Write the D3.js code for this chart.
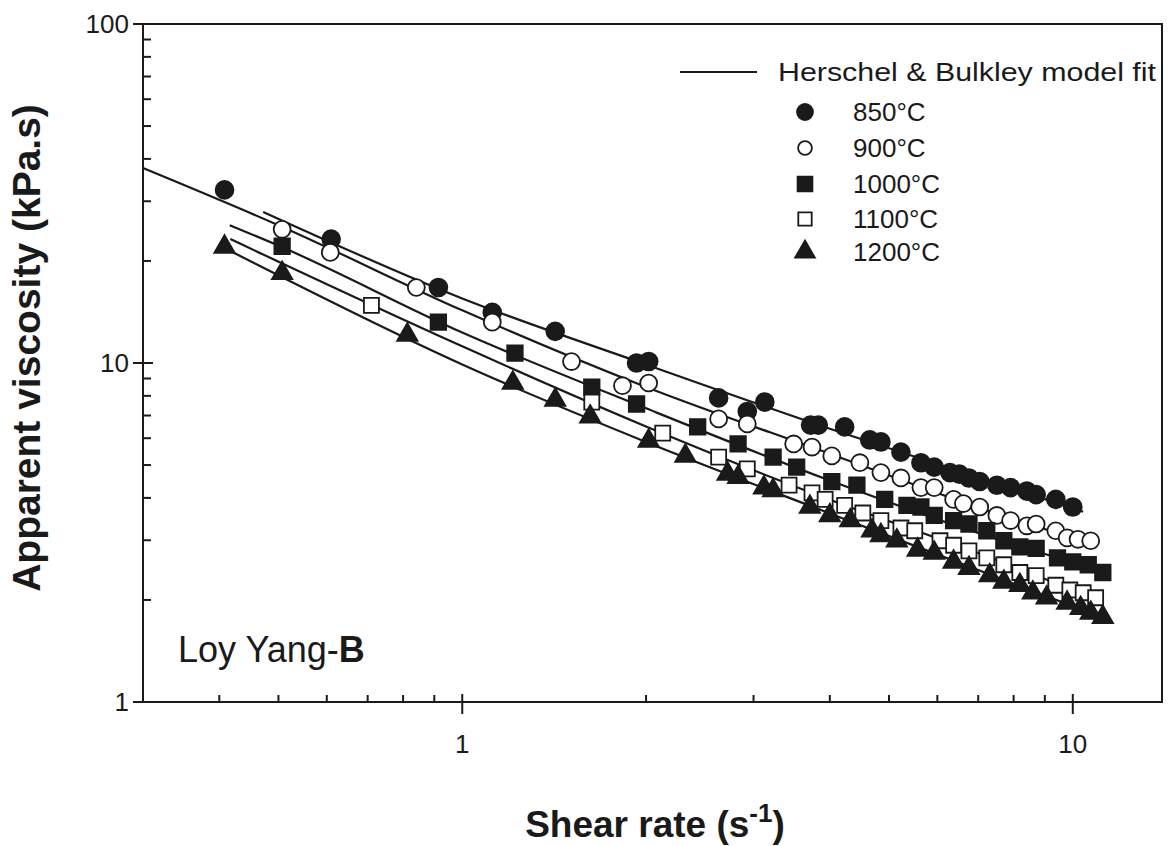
<!DOCTYPE html>
<html>
<head>
<meta charset="utf-8">
<script src="https://cdn.jsdelivr.net/npm/d3@7/dist/d3.min.js"></script>
<style>
  body { margin: 0; background: #fff; }
  text { font-family: "Liberation Sans", Arial, sans-serif; fill: #1a1a1a; }
</style>
</head>
<body>
<svg id="chart" width="1168" height="846"></svg>
<script>
// shear rate (1/s), apparent viscosity (kPa.s)
let t850 = [[0.408,32.4],[0.61,23.2],[0.914,16.7],[1.12,14.1],[1.42,12.4],[1.93,10.0],[2.02,10.1],[2.63,7.89],[2.93,7.19],[3.13,7.67],
  [3.72,6.56],[3.83,6.56],[4.23,6.48],[4.65,5.93],[4.85,5.85],[5.23,5.46],[5.64,5.08],[5.93,4.93],[6.29,4.75],[6.52,4.70],
  [6.76,4.58],[7.04,4.47],[7.51,4.36],[7.91,4.29],[8.41,4.19],[8.71,4.09],[9.38,3.96],[10.0,3.76]];
let t900 = [[0.507,24.8],[0.608,21.2],[0.841,16.7],[1.12,13.2],[1.51,10.1],[1.83,8.57],[2.02,8.73],[2.63,6.84],[2.93,6.61],[3.49,5.77],
  [3.74,5.65],[4.03,5.32],[4.48,5.08],[4.85,4.75],[5.23,4.58],[5.64,4.29],[5.93,4.29],[6.38,3.96],[6.62,3.85],[7.04,3.76],
  [7.51,3.55],[7.91,3.43],[8.41,3.31],[8.71,3.35],[9.38,3.20],[9.79,3.05],[10.2,3.02],[10.7,2.99]];
let t1000 = [[0.507,22.1],[0.914,13.2],[1.22,10.7],[1.63,8.49],[1.93,7.57],[2.43,6.48],[2.83,5.77],[3.23,5.28],[3.53,4.93],[4.03,4.47],
  [4.43,4.36],[4.92,3.96],[5.35,3.80],[5.64,3.76],[5.93,3.55],[6.38,3.43],[6.76,3.35],[7.23,3.20],[7.71,2.99],[8.19,2.87],
  [8.71,2.84],[9.44,2.66],[10.0,2.59],[10.6,2.54],[11.2,2.41]];
let t1100 = [[0.71,14.8],[1.63,7.67],[2.13,6.21],[2.63,5.28],[2.93,4.87],[3.43,4.36],[3.74,4.14],[3.93,3.96],[4.23,3.80],[4.53,3.61],
  [4.85,3.43],[5.23,3.26],[5.51,3.20],[6.06,2.99],[6.38,2.90],[6.76,2.79],[7.23,2.66],[7.71,2.54],[8.19,2.41],[8.71,2.36],
  [9.38,2.21],[9.89,2.14],[10.4,2.10],[10.9,2.03]];
let t1200 = [[0.408,22.0],[0.507,18.4],[0.813,12.1],[1.21,8.73],[1.42,7.78],[1.62,6.94],[2.02,5.89],[2.32,5.32],[2.72,4.71],[2.83,4.60],
  [3.12,4.29],[3.23,4.21],[3.71,3.76],[4.00,3.55],[4.32,3.43],[4.69,3.20],[4.85,3.10],[5.15,2.99],[5.57,2.81],[5.93,2.75],
  [6.38,2.59],[6.76,2.48],[7.31,2.36],[7.71,2.26],[8.19,2.21],[8.60,2.10],[9.06,2.03],[9.79,1.96],[10.3,1.89],[10.7,1.83],
  [11.2,1.78]];

// Herschel & Bulkley fit curves
let fit850 = [[0.472,27.9],[1,15.5],[2,9.9],[4,6.4],[7,4.6],[10.4,3.64]];
let fit900 = [[0.3,37.6],[0.5,25.5],[1,14.3],[2,8.5],[4,5.4],[7,3.75],[10.8,2.92]];
let fit1000 = [[0.416,25.5],[0.5,22.2],[1,12.3],[2,7.35],[4,4.5],[7,3.15],[11.3,2.42]];
let fit1100 = [[0.417,23.2],[1,11.2],[2,6.5],[4,3.95],[7,2.75],[11,2.0]];
let fit1200 = [[0.417,21.4],[1,9.9],[2,5.85],[4,3.6],[7,2.45],[11.4,1.75]];

let legendNames = ["850°C", "900°C", "1000°C", "1100°C", "1200°C"];
let xMajor = [1, 10];
let xMinor = [0.4,0.5,0.6,0.7,0.8,0.9,2,3,4,5,6,7,8,9];
let yMajor = [1, 10, 100];
let yMinor = [2,3,4,5,6,7,8,9,20,30,40,50,60,70,80,90];

var ink = "#1a1a1a";
var pLeft = 143, pRight = 1162, pTop = 24, pBottom = 702;

var svg = d3.select("#chart");

var x = d3.scaleLog().domain([0.3, 14]).range([pLeft, pRight]);
var y = d3.scaleLog().domain([1, 100]).range([pBottom, pTop]);

// frame
svg.append("rect")
    .attr("x", pLeft).attr("y", pTop)
    .attr("width", pRight - pLeft).attr("height", pBottom - pTop)
    .attr("fill", "none").attr("stroke", ink).attr("stroke-width", 2);

// bottom axis ticks
var xAxis = svg.append("g");
xAxis.selectAll("line.minor").data(xMinor).enter().append("line")
    .attr("x1", d => x(d)).attr("x2", d => x(d))
    .attr("y1", pBottom).attr("y2", pBottom - 7)
    .attr("stroke", ink).attr("stroke-width", 2);
xAxis.selectAll("line.major").data(xMajor).enter().append("line")
    .attr("x1", d => x(d)).attr("x2", d => x(d))
    .attr("y1", pBottom + 12).attr("y2", pBottom - 8)
    .attr("stroke", ink).attr("stroke-width", 2);
xAxis.selectAll("text").data(xMajor).enter().append("text")
    .attr("x", d => x(d)).attr("y", pBottom + 51)
    .attr("text-anchor", "middle").attr("font-size", 26)
    .text(d => d);

// left axis ticks
var yAxis = svg.append("g");
yAxis.selectAll("line.minor").data(yMinor).enter().append("line")
    .attr("y1", d => y(d)).attr("y2", d => y(d))
    .attr("x1", pLeft).attr("x2", pLeft + 8)
    .attr("stroke", ink).attr("stroke-width", 2);
yAxis.selectAll("line.major").data(yMajor).enter().append("line")
    .attr("y1", d => y(d)).attr("y2", d => y(d))
    .attr("x1", pLeft - 10).attr("x2", pLeft + 10)
    .attr("stroke", ink).attr("stroke-width", 2);
yAxis.selectAll("text").data(yMajor).enter().append("text")
    .attr("x", pLeft - 14).attr("y", d => y(d) + 9)
    .attr("text-anchor", "end").attr("font-size", 26)
    .text(d => d);

// fit lines
var line = d3.line()
    .x(d => x(d[0]))
    .y(d => y(d[1]))
    .curve(d3.curveMonotoneX);

[fit850, fit900, fit1000, fit1100, fit1200].forEach(function (f) {
  svg.append("path")
      .attr("d", line(f))
      .attr("fill", "none").attr("stroke", ink).attr("stroke-width", 2.2);
});

// markers
var styles = [
  { type: d3.symbolCircle,   size: 250, fill: ink,    stroke: ink },
  { type: d3.symbolCircle,   size: 225, fill: "#fff", stroke: ink },
  { type: d3.symbolSquare,   size: 240, fill: ink,    stroke: ink },
  { type: d3.symbolSquare,   size: 225, fill: "#fff", stroke: ink },
  { type: d3.symbolTriangle, size: 180, fill: ink,    stroke: ink }
];
var allSeries = [t850, t900, t1000, t1100, t1200];

allSeries.forEach(function (s, i) {
  var st = styles[i];
  svg.append("g").selectAll("path").data(s).enter().append("path")
      .attr("d", d3.symbol().type(st.type).size(st.size))
      .attr("transform", d => "translate(" + x(d[0]) + "," + y(d[1]) + ")")
      .attr("fill", st.fill).attr("stroke", st.stroke).attr("stroke-width", 1.8);
});

// legend
var lg = svg.append("g");
lg.append("line")
    .attr("x1", 680).attr("x2", 757).attr("y1", 72).attr("y2", 72)
    .attr("stroke", ink).attr("stroke-width", 2);
lg.append("text")
    .attr("x", 778).attr("y", 81)
    .attr("font-size", 26)
    .attr("textLength", 378).attr("lengthAdjust", "spacingAndGlyphs")
    .text("Herschel & Bulkley model fit");

var legendY = [112, 148, 184, 219, 252];
var legendSizes = [200, 150, 220, 180, 170];
legendNames.forEach(function (n, i) {
  var st = styles[i];
  lg.append("path")
      .attr("d", d3.symbol().type(st.type).size(legendSizes[i]))
      .attr("transform", "translate(805," + legendY[i] + ")")
      .attr("fill", st.fill).attr("stroke", st.stroke).attr("stroke-width", 1.8);
  lg.append("text")
      .attr("x", 853).attr("y", legendY[i] + 9)
      .attr("font-size", 26)
      .text(n);
});

// sample label
var lab = svg.append("text")
    .attr("x", 178).attr("y", 662)
    .attr("font-size", 36);
lab.append("tspan").text("Loy Yang-");
lab.append("tspan").attr("font-weight", "bold").text("B");

// axis titles
var xt = svg.append("text")
    .attr("x", 655).attr("y", 837)
    .attr("text-anchor", "middle")
    .attr("font-size", 37).attr("font-weight", "bold");
xt.append("tspan").text("Shear rate (s");
xt.append("tspan").attr("font-size", 26).attr("dy", -15).text("-1");
xt.append("tspan").attr("dy", 15).text(")");

svg.append("text")
    .attr("transform", "translate(40,348) rotate(-90)")
    .attr("text-anchor", "middle")
    .attr("font-size", 39).attr("font-weight", "bold")
    .text("Apparent viscosity (kPa.s)");
</script>
</body>
</html>
